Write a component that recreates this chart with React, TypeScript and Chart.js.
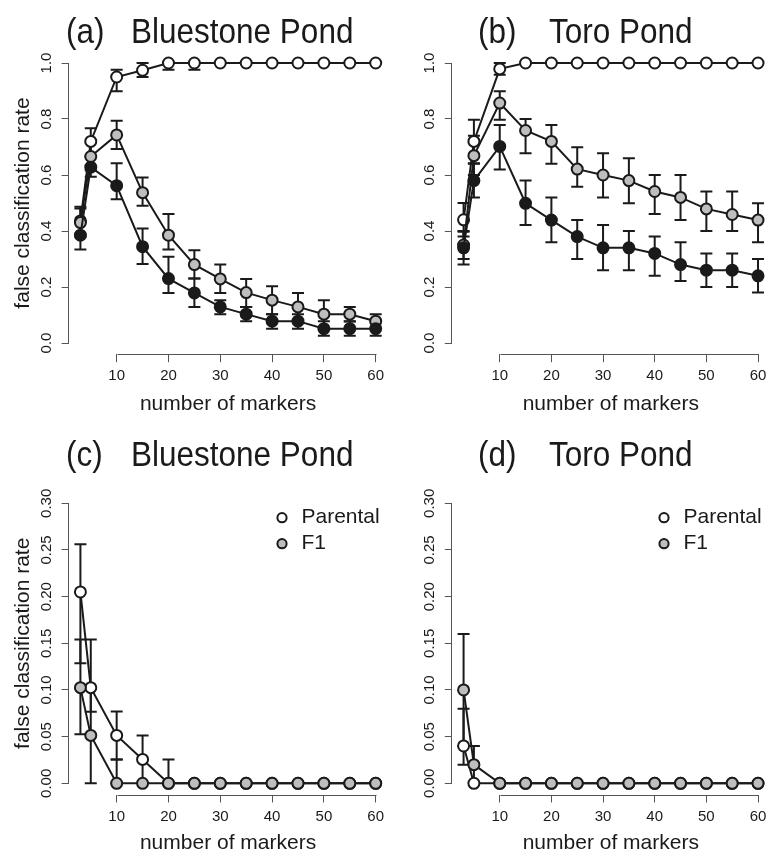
import React, { useEffect, useRef } from "react";
import { Chart, registerables } from "chart.js";

Chart.register(...registerables);

const FONT = "'Liberation Sans', Arial, Helvetica, sans-serif";
const INK = "#1a1a1a";
const AXIS = "#555555";
const GREY = "#bebebe";
const WHITE = "#ffffff";

// ---------- data ----------
const markers = [3, 5, 10, 15, 20, 25, 30, 35, 40, 45, 50, 55, 60];
const xTickValues = [10, 20, 30, 40, 50, 60];
const yTicksTop = [0, 0.2, 0.4, 0.6, 0.8, 1.0];
const yTicksBottom = [0, 0.05, 0.1, 0.15, 0.2, 0.25, 0.3];

// (a) Bluestone Pond
const aWhite = [0.436, 0.72, 0.95, 0.974, 1, 1, 1, 1, 1, 1, 1, 1, 1];
const aWhiteLo = [0.385, 0.67, 0.899, 0.95, 0.976, 0.976, 1, 1, 1, 1, 1, 1, 1];
const aWhiteHi = [0.487, 0.767, 0.976, 1, 1, 1, 1, 1, 1, 1, 1, 1, 1];
const aGrey = [0.43, 0.666, 0.743, 0.537, 0.385, 0.28, 0.229, 0.18, 0.153, 0.129, 0.103, 0.103, 0.078];
const aGreyLo = [0.38, 0.616, 0.693, 0.49, 0.334, 0.23, 0.179, 0.129, 0.103, 0.079, 0.053, 0.077, 0.053];
const aGreyHi = [0.48, 0.716, 0.794, 0.591, 0.461, 0.331, 0.28, 0.229, 0.203, 0.179, 0.153, 0.129, 0.103];
const aBlack = [0.385, 0.628, 0.562, 0.344, 0.23, 0.179, 0.129, 0.103, 0.078, 0.078, 0.051, 0.051, 0.051];
const aBlackLo = [0.334, 0.594, 0.513, 0.282, 0.179, 0.129, 0.103, 0.078, 0.051, 0.051, 0.026, 0.026, 0.026];
const aBlackHi = [0.433, 0.666, 0.642, 0.409, 0.308, 0.23, 0.153, 0.129, 0.103, 0.103, 0.078, 0.078, 0.078];

// (b) Toro Pond
const bWhite = [0.44, 0.72, 0.979, 1, 1, 1, 1, 1, 1, 1, 1, 1, 1];
const bWhiteLo = [0.38, 0.64, 0.958, 1, 1, 1, 1, 1, 1, 1, 1, 1, 1];
const bWhiteHi = [0.5, 0.797, 1, 1, 1, 1, 1, 1, 1, 1, 1, 1, 1];
const bGrey = [0.35, 0.669, 0.857, 0.759, 0.72, 0.621, 0.6, 0.58, 0.541, 0.52, 0.479, 0.459, 0.439];
const bGreyLo = [0.3, 0.6, 0.797, 0.678, 0.64, 0.558, 0.52, 0.499, 0.461, 0.439, 0.4, 0.4, 0.36];
const bGreyHi = [0.4, 0.74, 0.899, 0.8, 0.779, 0.699, 0.678, 0.66, 0.6, 0.6, 0.541, 0.541, 0.499];
const bBlack = [0.34, 0.58, 0.702, 0.499, 0.439, 0.38, 0.34, 0.34, 0.32, 0.28, 0.26, 0.26, 0.24];
const bBlackLo = [0.28, 0.52, 0.62, 0.421, 0.36, 0.3, 0.26, 0.26, 0.24, 0.221, 0.2, 0.2, 0.18];
const bBlackHi = [0.397, 0.642, 0.779, 0.58, 0.52, 0.439, 0.421, 0.4, 0.38, 0.36, 0.32, 0.32, 0.3];

// (c) Bluestone Pond
const cParental = [0.205, 0.1025, 0.0513, 0.0256, 0, 0, 0, 0, 0, 0, 0, 0, 0];
const cParentalLo = [0.1286, 0.0767, 0.0256, 0, 0, 0, 0, 0, 0, 0, 0, 0, 0];
const cParentalHi = [0.256, 0.154, 0.0769, 0.0513, 0.0256, 0, 0, 0, 0, 0, 0, 0, 0];
const cF1 = [0.1025, 0.0513, 0, 0, 0, 0, 0, 0, 0, 0, 0, 0, 0];
const cF1Lo = [0.0525, 0, 0, 0, 0, 0, 0, 0, 0, 0, 0, 0, 0];
const cF1Hi = [0.154, 0.1025, 0.0256, 0, 0, 0, 0, 0, 0, 0, 0, 0, 0];

// (d) Toro Pond
const dParental = [0.04, 0, 0, 0, 0, 0, 0, 0, 0, 0, 0, 0, 0];
const dParentalLo = [0.02, 0, 0, 0, 0, 0, 0, 0, 0, 0, 0, 0, 0];
const dParentalHi = [0.08, 0, 0, 0, 0, 0, 0, 0, 0, 0, 0, 0, 0];
const dF1 = [0.1, 0.02, 0, 0, 0, 0, 0, 0, 0, 0, 0, 0, 0];
const dF1Lo = [0.04, 0, 0, 0, 0, 0, 0, 0, 0, 0, 0, 0, 0];
const dF1Hi = [0.16, 0.04, 0, 0, 0, 0, 0, 0, 0, 0, 0, 0, 0];

const legendLabels = ["Parental", "F1"];

// ---------- layout ----------
const CW = 400;
const CH = 440;

type Series = { label: string; values: number[]; lo: number[]; hi: number[]; fill: string; order: number };
type PanelSpec = {
  id: string;
  left: number;
  top: number;
  tag: string;
  name: string;
  tagX: number;
  nameX: number;
  titleY: number;
  yAxisWidth: number;
  padRight: number;
  padTop: number;
  xAxisHeight: number;
  xTitlePad: number;
  yMin: number;
  yMax: number;
  yTicks: number[];
  yDec: number;
  yTickPad: number;
  showYTitle: boolean;
  legend: null | { left: number; top: number };
  series: Series[];
};

const topSeries = (w: number[], wl: number[], wh: number[], g: number[], gl: number[], gh: number[], k: number[], kl: number[], kh: number[]): Series[] => [
  { label: "open", values: w, lo: wl, hi: wh, fill: WHITE, order: 2 },
  { label: "grey", values: g, lo: gl, hi: gh, fill: GREY, order: 1 },
  { label: "filled", values: k, lo: kl, hi: kh, fill: INK, order: 0 },
];

const panels: PanelSpec[] = [
  {
    id: "a", left: 0, top: 0, tag: "(a)", name: "Bluestone Pond", tagX: 66, nameX: 131, titleY: 33,
    yAxisWidth: 68.6, padRight: 12.5, padTop: 51.8, xAxisHeight: CH - 354.2, xTitlePad: 23.4,
    yMin: -0.04, yMax: 1.04, yTicks: yTicksTop, yDec: 1, yTickPad: 4.5, showYTitle: true, legend: null,
    series: topSeries(aWhite, aWhiteLo, aWhiteHi, aGrey, aGreyLo, aGreyHi, aBlack, aBlackLo, aBlackHi),
  },
  {
    id: "b", left: 384, top: 0, tag: "(b)", name: "Toro Pond", tagX: 94, nameX: 165, titleY: 33,
    yAxisWidth: 67.8, padRight: 14.2, padTop: 51.8, xAxisHeight: CH - 354.2, xTitlePad: 23.4,
    yMin: -0.04, yMax: 1.04, yTicks: yTicksTop, yDec: 1, yTickPad: 4.5, showYTitle: false, legend: null,
    series: topSeries(bWhite, bWhiteLo, bWhiteHi, bGrey, bGreyLo, bGreyHi, bBlack, bBlackLo, bBlackHi),
  },
  {
    id: "c", left: 0, top: 425, tag: "(c)", name: "Bluestone Pond", tagX: 66, nameX: 131, titleY: 31,
    yAxisWidth: 68.6, padRight: 12.5, padTop: 67.1, xAxisHeight: CH - 369.5, xTitlePad: 8.9,
    yMin: -0.012, yMax: 0.312, yTicks: yTicksBottom, yDec: 2, yTickPad: 0, showYTitle: true,
    legend: { left: 268, top: 77.2 },
    series: [
      { label: legendLabels[0], values: cParental, lo: cParentalLo, hi: cParentalHi, fill: WHITE, order: 1 },
      { label: legendLabels[1], values: cF1, lo: cF1Lo, hi: cF1Hi, fill: GREY, order: 0 },
    ],
  },
  {
    id: "d", left: 384, top: 425, tag: "(d)", name: "Toro Pond", tagX: 94, nameX: 165, titleY: 31,
    yAxisWidth: 67.8, padRight: 14.2, padTop: 67.1, xAxisHeight: CH - 369.5, xTitlePad: 8.9,
    yMin: -0.012, yMax: 0.312, yTicks: yTicksBottom, yDec: 2, yTickPad: 0, showYTitle: false,
    legend: { left: 266, top: 77.2 },
    series: [
      { label: legendLabels[0], values: dParental, lo: dParentalLo, hi: dParentalHi, fill: WHITE, order: 1 },
      { label: legendLabels[1], values: dF1, lo: dF1Lo, hi: dF1Hi, fill: GREY, order: 0 },
    ],
  },
];

// ---------- plugins ----------
const CAP = 6;

const errorBars = {
  id: "errorBars",
  beforeDatasetsDraw(chart: any) {
    const { ctx } = chart;
    const xs = chart.scales.x;
    const ys = chart.scales.y;
    ctx.save();
    ctx.strokeStyle = INK;
    ctx.lineWidth = 2;
    chart.data.datasets.forEach((ds: any) => {
      const lo: number[] = ds.errLo;
      const hi: number[] = ds.errHi;
      if (!lo || !hi) return;
      ds.data.forEach((pt: any, i: number) => {
        if (!(hi[i] > lo[i])) return;
        const px = xs.getPixelForValue(pt.x);
        const y1 = ys.getPixelForValue(lo[i]);
        const y2 = ys.getPixelForValue(hi[i]);
        ctx.beginPath();
        ctx.moveTo(px, y1);
        ctx.lineTo(px, y2);
        ctx.moveTo(px - CAP, y1);
        ctx.lineTo(px + CAP, y1);
        ctx.moveTo(px - CAP, y2);
        ctx.lineTo(px + CAP, y2);
        ctx.stroke();
      });
    });
    ctx.restore();
  },
};

const axisLines = {
  id: "axisLines",
  beforeDatasetsDraw(chart: any) {
    const { ctx, chartArea } = chart;
    const xs = chart.scales.x;
    const ys = chart.scales.y;
    const xt = xs.ticks;
    const yt = ys.ticks;
    ctx.save();
    ctx.strokeStyle = AXIS;
    ctx.lineWidth = 1;
    ctx.beginPath();
    const yb = Math.round(chartArea.bottom) + 0.5;
    ctx.moveTo(Math.round(xs.getPixelForValue(xt[0].value)) + 0.5, yb);
    ctx.lineTo(Math.round(xs.getPixelForValue(xt[xt.length - 1].value)) + 0.5, yb);
    const xl = Math.round(chartArea.left) - 0.5;
    ctx.moveTo(xl, Math.round(ys.getPixelForValue(yt[0].value)) + 0.5);
    ctx.lineTo(xl, Math.round(ys.getPixelForValue(yt[yt.length - 1].value)) + 0.5);
    ctx.stroke();
    ctx.restore();
  },
};

// panel heading, drawn in a slightly condensed face (horizontal squeeze of the sans font)
const panelTitle = {
  id: "panelTitle",
  afterDraw(chart: any, _args: any, opts: any) {
    const { ctx } = chart;
    const draw = (text: string, x: number) => {
      ctx.save();
      ctx.translate(x, opts.y);
      ctx.scale(opts.squeeze, 1);
      ctx.font = `${opts.size}px ${FONT}`;
      ctx.fillStyle = INK;
      ctx.textBaseline = "middle";
      ctx.textAlign = "left";
      ctx.fillText(text, 0, 0);
      ctx.restore();
    };
    draw(opts.tag, opts.tagX);
    draw(opts.name, opts.nameX);
  },
};

const legendShift = {
  id: "legendShift",
  beforeDraw(chart: any, _args: any, opts: any) {
    const lg = chart.legend;
    if (!lg || !opts || opts.left == null) return;
    const w = lg.right - lg.left;
    const h = lg.bottom - lg.top;
    lg.left = opts.left;
    lg.top = opts.top;
    lg.right = opts.left + w;
    lg.bottom = opts.top + h;
  },
};

function buildConfig(p: PanelSpec): any {
  return {
    type: "line",
    data: {
      datasets: p.series.map((s) => ({
        label: s.label,
        data: markers.map((m, i) => ({ x: m, y: s.values[i] })),
        errLo: s.lo,
        errHi: s.hi,
        borderColor: INK,
        borderWidth: 2,
        backgroundColor: s.fill,
        pointBackgroundColor: s.fill,
        pointBorderColor: INK,
        pointBorderWidth: 2,
        pointRadius: 5.5,
        pointHoverRadius: 5.5,
        tension: 0,
        fill: false,
        order: s.order,
      })),
    },
    options: {
      animation: false,
      responsive: false,
      maintainAspectRatio: false,
      events: [],
      layout: { padding: { left: 0, right: p.padRight, top: p.padTop, bottom: 0 }, autoPadding: false },
      plugins: {
        tooltip: { enabled: false },
        title: { display: false },
        legend: p.legend
          ? {
              display: true,
              position: "chartArea",
              align: "start",
              labels: {
                usePointStyle: true,
                pointStyle: "circle",
                boxWidth: 18,
                boxHeight: 6.5,
                padding: 5,
                color: INK,
                font: { family: FONT, size: 21 },
                sort: (a: any, b: any) => a.datasetIndex - b.datasetIndex,
              },
            }
          : { display: false },
        legendShift: p.legend ? { left: p.legend.left, top: p.legend.top } : {},
        panelTitle: { tag: p.tag, name: p.name, tagX: p.tagX, nameX: p.nameX, y: p.titleY, size: 35, squeeze: 0.9 },
      },
      scales: {
        x: {
          type: "linear",
          min: 0.72,
          max: 62.28,
          afterBuildTicks: (s: any) => {
            s.ticks = xTickValues.map((v) => ({ value: v }));
          },
          afterFit: (s: any) => {
            s.height = p.xAxisHeight;
          },
          ticks: {
            font: { family: FONT, size: 15 },
            color: INK,
            padding: 5,
            minRotation: 0,
            maxRotation: 0,
            autoSkip: false,
            callback: (v: any) => String(v),
          },
          grid: { display: true, drawOnChartArea: false, drawTicks: true, tickLength: 8, color: AXIS, lineWidth: 1 },
          border: { display: false },
          title: {
            display: true,
            text: "number of markers",
            color: INK,
            font: { family: FONT, size: 21 },
            padding: { top: 0, bottom: p.xTitlePad },
          },
        },
        y: {
          type: "linear",
          min: p.yMin,
          max: p.yMax,
          afterBuildTicks: (s: any) => {
            s.ticks = p.yTicks.map((v) => ({ value: v }));
          },
          afterFit: (s: any) => {
            s.width = p.yAxisWidth;
          },
          ticks: {
            font: { family: FONT, size: 15 },
            color: INK,
            padding: p.yTickPad,
            minRotation: 90,
            maxRotation: 90,
            crossAlign: "center",
            autoSkip: false,
            callback: (v: any) => Number(v).toFixed(p.yDec),
          },
          grid: { display: true, drawOnChartArea: false, drawTicks: true, tickLength: 7, color: AXIS, lineWidth: 1 },
          border: { display: false },
          title: {
            display: p.showYTitle,
            text: "false classification rate",
            color: INK,
            font: { family: FONT, size: 21 },
            padding: { top: 10.7, bottom: 0 },
          },
        },
      },
    },
    plugins: [axisLines, errorBars, panelTitle, legendShift],
  };
}

function Panel({ spec }: { spec: PanelSpec }) {
  const ref = useRef<HTMLCanvasElement>(null);
  useEffect(() => {
    if (!ref.current) return;
    const chart = new Chart(ref.current, buildConfig(spec));
    return () => chart.destroy();
  }, [spec]);
  return (
    <canvas
      ref={ref}
      width={CW}
      height={CH}
      style={{ position: "absolute", left: spec.left, top: spec.top, width: CW, height: CH }}
    />
  );
}

export default function App() {
  return (
    <div
      style={{
        position: "fixed",
        left: 0,
        top: 0,
        width: 768,
        height: 851,
        overflow: "hidden",
        background: "#ffffff",
      }}
    >
      {panels.map((p) => (
        <Panel key={p.id} spec={p} />
      ))}
    </div>
  );
}
